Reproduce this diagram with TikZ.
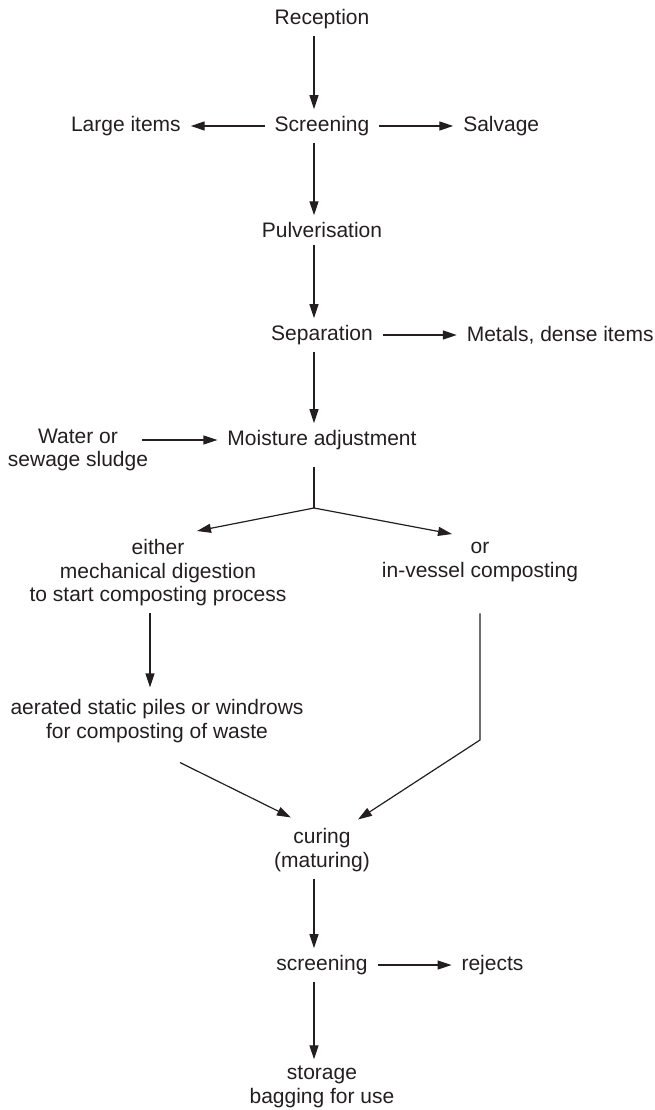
\documentclass[tikz,border=0pt]{standalone}
\usepackage{fontspec}
\setmainfont{Liberation Sans}
\usetikzlibrary{arrows.meta,positioning}
\definecolor{ink}{RGB}{35,31,32}
\tikzset{
  stage/.style={font=\fontsize{21}{23.5}\selectfont, text=ink, align=center,
    inner sep=0pt, outer xsep=10pt, outer ysep=7pt},
  flow/.style={draw=ink, line width=1.2pt, -{Triangle[length=14pt,width=9pt]}},
  plain/.style={draw=ink, line width=1.2pt}
}

\begin{document}
\begin{tikzpicture}[x=1pt,y=1pt]
  \useasboundingbox (0,0) rectangle (655,-1110);
  \coordinate (spine) at (314,0);
  % main column
  \node[stage] (rec)   at (322,-19)  {Reception};
  \node[stage] (scr)   at (322,-126) {Screening};
  \node[stage, left=74pt of scr]  (large)   {Large items};
  \node[stage, right=74pt of scr] (salvage) {Salvage};
  \node[stage] (pulv)  at (322,-230) {Pulverisation};
  \node[stage] (sep)   at (322,-335) {Separation};
  \node[stage, right=74pt of sep] (metals) {Metals, dense items};
  \node[stage] (moist) at (322,-440) {Moisture adjustment};
  \node[stage] (water) at (78,-450)  {Water or\\sewage sludge};
  \coordinate (wet) at (142,-440);
  % the two routes
  \coordinate (fork) at (314,-508);
  \coordinate (lend) at (197,-531);
  \coordinate (rend) at (452,-534);
  \node[stage] (either) at (158,-573) {either\\mechanical digestion\\to start composting process};
  \node[stage] (vessel) at (480,-562) {or\\in-vessel composting};
  \node[stage] (piles)  at (157,-721) {aerated static piles or windrows\\for composting of waste};
  \coordinate (bend) at (480,-740);
  % after composting
  \node[stage] (cure)  at (322,-850)  {curing\\(maturing)};
  \node[stage] (scr2)  at (322,-965)  {screening};
  \node[stage, right=74pt of scr2] (rejects) {rejects};
  \node[stage] (store) at (322,-1087) {storage\\bagging for use};

  \path[every edge/.style={flow}]
    (rec.south -| spine) edge (scr.north -| spine)
    (scr.west) edge (large.east)
    (scr.east) edge (salvage.west)
    (scr.south -| spine) edge (pulv.north -| spine)
    (pulv.south -| spine) edge (sep.north -| spine)
    (sep.east) edge (metals.west)
    (sep.south -| spine) edge (moist.north -| spine)
    (wet) edge (moist.west)
    (fork) edge (lend)
    (fork) edge (rend)
    ([xshift=-8pt]either.south) edge ([xshift=-7pt,yshift=5pt]piles.north)
    ([xshift=23pt,yshift=-13pt]piles.south) edge ([xshift=-31pt,yshift=4pt]cure.north)
    (cure.south -| spine) edge (scr2.north -| spine)
    (scr2.east) edge (rejects.west)
    (scr2.south -| spine) edge (store.north -| spine);
  \draw[plain] ([xshift=-8pt,yshift=-10pt]moist.south) -- (fork);
  \draw[flow] (either.south -| vessel) -- (bend) -- ([xshift=36pt,yshift=2pt]cure.north);
\end{tikzpicture}
\end{document}
